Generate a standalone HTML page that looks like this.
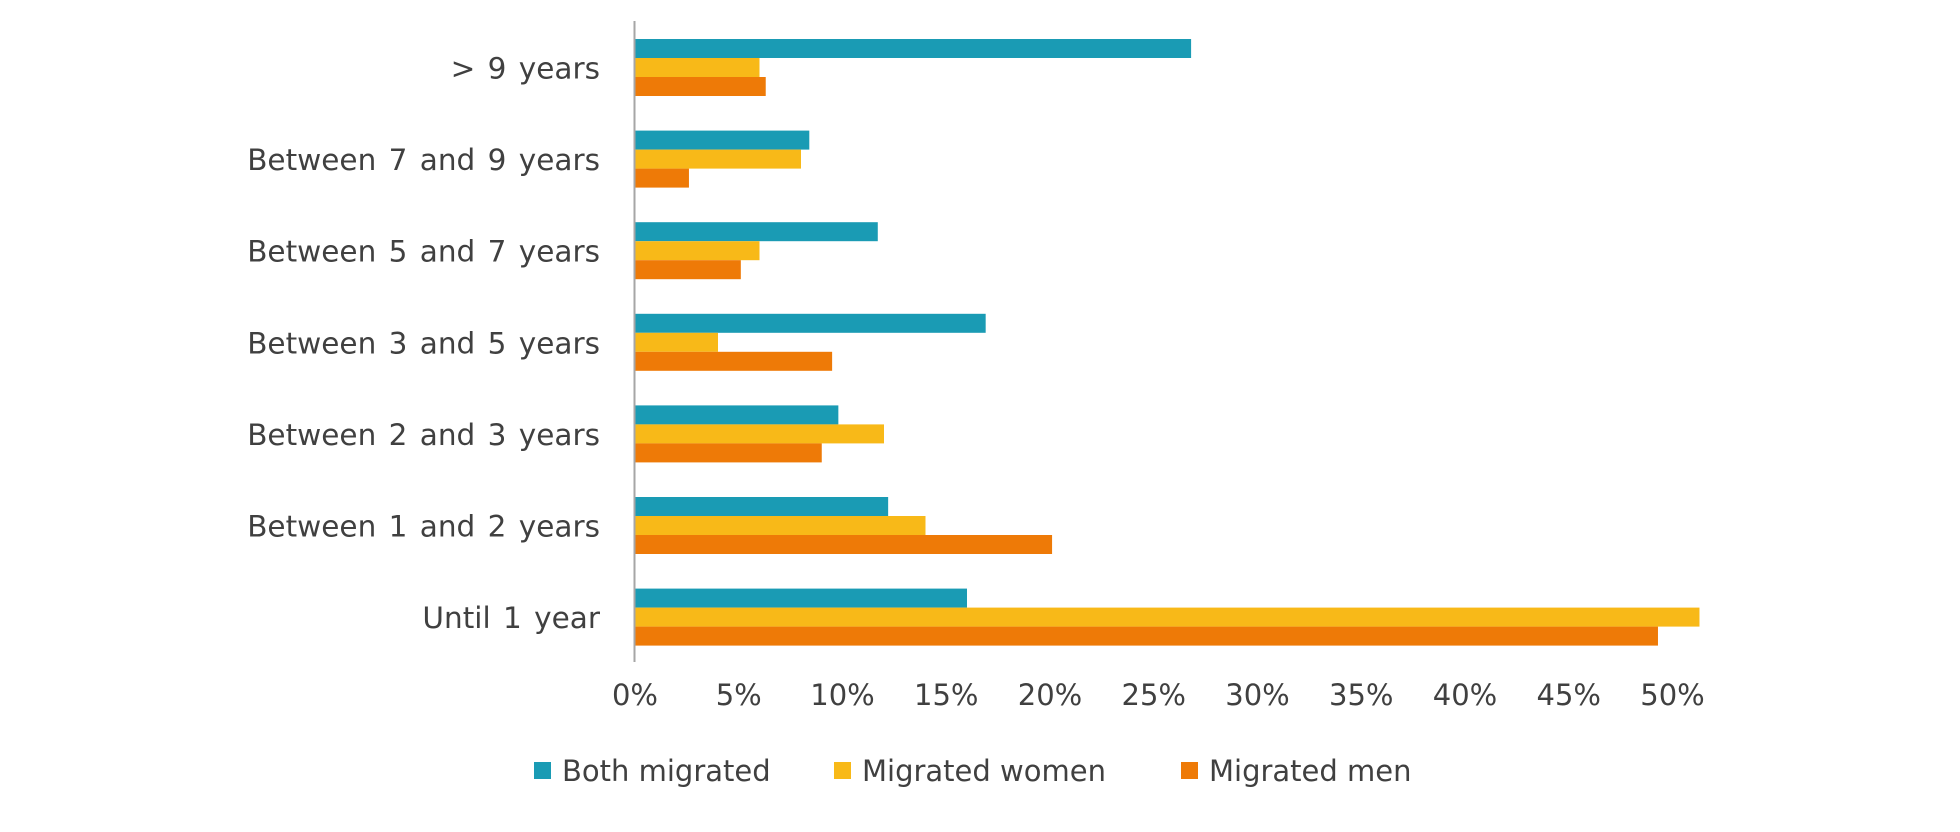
<!DOCTYPE html>
<html><head><meta charset="utf-8"><style>
html,body{margin:0;padding:0;background:#fff;}
svg{display:block;font-family:"DejaVu Sans","Liberation Sans",sans-serif;}
</style></head><body>
<svg id="chart" width="1960" height="832" viewBox="0 0 1960 832" xmlns="http://www.w3.org/2000/svg"></svg>
<script>
const categories = ["> 9 years","Between 7 and 9 years","Between 5 and 7 years","Between 3 and 5 years","Between 2 and 3 years","Between 1 and 2 years","Until 1 year"];
const bothMigrated = [26.8, 8.4, 11.7, 16.9, 9.8, 12.2, 16.0];
const migratedWomen = [6.0, 8.0, 6.0, 4.0, 12.0, 14.0, 51.3];
const migratedMen = [6.3, 2.6, 5.1, 9.5, 9.0, 20.1, 49.3];
const tickValues = [0,5,10,15,20,25,30,35,40,45,50];
const tickLabels = ["0%","5%","10%","15%","20%","25%","30%","35%","40%","45%","50%"];
const seriesNames = ["Both migrated","Migrated women","Migrated men"];

const NS="http://www.w3.org/2000/svg";
const svg=document.getElementById('chart');
const x0=635, pxPer=20.75;
const xs=v=>x0+v*pxPer;
const groupTop=i=>39+i*91.6;
const barH=19;
const colors=["#1A9BB4","#F8B918","#EE7A07"];
const series=[bothMigrated,migratedWomen,migratedMen];
function mk(tag,attrs){const e=document.createElementNS(NS,tag);for(const k in attrs)e.setAttribute(k,attrs[k]);svg.appendChild(e);return e;}

categories.forEach((c,i)=>{
  series.forEach((s,j)=>{
    const r=mk('rect',{x:x0,y:groupTop(i)+j*barH,width:Math.max(0,xs(s[i])-x0),height:barH,fill:colors[j]});
    
    
  });
  const t=mk('text',{x:600,y:groupTop(i)+barH*1.5+11,'text-anchor':'end','font-size':29.5,fill:'#404040','word-spacing':'3'});
  t.textContent=c;
  
  
});
const ax=mk('line',{x1:x0-0.5,x2:x0-0.5,y1:21,y2:662,stroke:'#A6A6A6','stroke-width':2});


tickValues.forEach((v,k)=>{
  const t=mk('text',{x:xs(v),y:705,'text-anchor':'middle','font-size':29,fill:'#404040'});
  t.textContent=tickLabels[k];
  
  
});
const legX=[534,834,1181];
seriesNames.forEach((n,j)=>{
  const r=mk('rect',{x:legX[j],y:762,width:17,height:17,fill:colors[j]});
  
  
  const t=mk('text',{x:legX[j]+28,y:781,'font-size':29,fill:'#404040'});
  t.textContent=n;
  
  
});
</script>
</body></html>
